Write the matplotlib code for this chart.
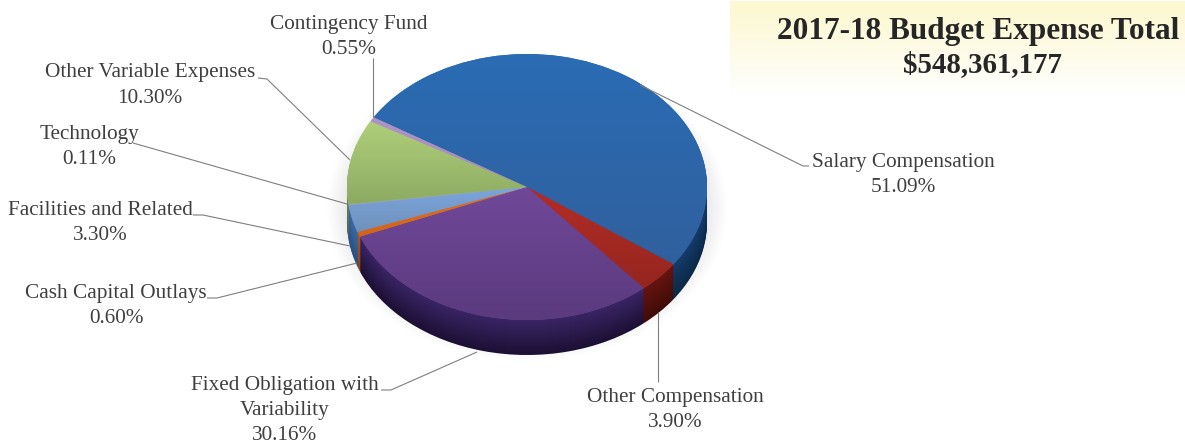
import numpy as np
import matplotlib
matplotlib.use('Agg')
import matplotlib.pyplot as plt
from matplotlib.patches import Ellipse
from matplotlib.colors import to_rgb

# Данные: по часовой стрелке, начиная с Salary
categories = ['Salary Compensation', 'Other Compensation', 'Fixed Obligation with\nVariability',
              'Cash Capital Outlays', 'Facilities and Related', 'Technology',
              'Other Variable Expenses', 'Contingency Fund']
shares = [51.09, 3.90, 30.16, 0.60, 3.30, 0.11, 10.30, 0.55]
title_lines = ['2017-18 Budget Expense Total', '$548,361,177']

# Цвета верхней грани (верх, низ) и боковой (верх, низ)
top_colors = [('#2a6cb4', '#30609e'), ('#b52c27', '#94261f'), ('#704899', '#5b3a7e'),
              ('#e0701f', '#d0641c'), ('#7ca6de', '#6f90ba'), ('#a8a8c0', '#a0a0b8'),
              ('#b0cf7a', '#8cab62'), ('#ad94c6', '#a58cbe')]
side_colors = [('#143c6c', '#0c2846'), ('#681410', '#400c08'), ('#3a2566', '#1c0f34'),
               ('#b0561a', '#8a4212'), ('#3c6ba8', '#2a4e80'), ('#888888', '#666666'),
               ('#6f8a48', '#50663a'), ('#7a6a90', '#5a4a70')]

# Подписи: центр текста и линия-выноска в пикселях
label_pos = [(903, 162), (675, 397), (285, 385), (116, 293), (100, 210), (89, 134), (150, 73), (349, 25)]
leaders = [[(640, 85), (803, 166), (809, 166)],
           [(658, 312), (658, 382)],
           [(477, 352), (391, 390), (381, 390)],
           [(357, 263), (217, 298), (207, 298)],
           [(350, 246), (203, 215), (193, 215)],
           [(347, 204), (133, 143)],
           [(350, 160), (267, 79), (258, 78)],
           [(373, 117), (373, 58)]]

W, H = 1185, 444
cx, cy, rx, ry, depth = 527, 187, 180, 133, 35
start_angle = 148.4


def blend(a, b, t):
    a, b = np.array(to_rgb(a)), np.array(to_rgb(b))
    return a + (b - a) * t


def set_unit_limits(ax):
    ax.set_aspect('auto')
    ax.set_xlim(-cx / rx, (W - cx) / rx)
    ax.set_ylim((cy - H) / ry, cy / ry)
    ax.axis('off')


fig = plt.figure(figsize=(W / 100, H / 100), dpi=100, facecolor='white')

# Фон заголовка
bg = fig.add_axes([0, 0, 1, 1])
grad = np.linspace(0, 1, 100)[:, None, None] ** 1.1
yellow = np.array(to_rgb('#fcf8d0'))
img = yellow + (1 - yellow) * grad
bg.imshow(img, extent=(730, W, 95, 1), aspect='auto', zorder=1)
bg.set_xlim(0, W)
bg.set_ylim(H, 0)
bg.axis('off')

ax = fig.add_axes([0, 0, 1, 1])
ax.patch.set_alpha(0)

# Мягкая тень вокруг диаграммы
for k in range(10):
    ax.add_patch(Ellipse((0, -depth / ry * 0.6), 2 + (10 - k) * 0.022, 2 + (10 - k) * 0.03,
                         fc='#6080a0', ec='none', alpha=0.012, zorder=0))

# Боковая стенка: слои снизу вверх
for i in range(depth, 0, -1):
    t = i / depth
    cols = [blend(c[0], c[1], t) for c in side_colors]
    ax.pie(shares, colors=cols, startangle=start_angle, counterclock=False, radius=1,
           center=(0, -i / ry), wedgeprops={'linewidth': 0}, normalize=True)

# Верхняя грань с вертикальным градиентом по каждому сектору
wedges, _ = ax.pie(shares, colors=[c[0] for c in top_colors], startangle=start_angle, counterclock=False,
                   radius=1, center=(0, 0), wedgeprops={'linewidth': 0}, normalize=True)
for w, c in zip(wedges, top_colors):
    w.set_zorder(3)
    box = w.get_path().get_extents(w.get_patch_transform())
    ramp = np.linspace(0, 1, 200)
    g = np.array([blend(c[0], c[1], v) for v in ramp])[:, None, :]
    im = ax.imshow(g, extent=(box.x0, box.x1, box.y0, box.y1), aspect='auto', origin='upper', zorder=4)
    im.set_clip_path(w)
set_unit_limits(ax)

# Тексты и выноски
ov = fig.add_axes([0, 0, 1, 1])
ov.patch.set_alpha(0)
ov.set_xlim(0, W)
ov.set_ylim(H, 0)
ov.axis('off')

serif = ['Liberation Serif', 'DejaVu Serif']
txt_color = '#3f3f3f'
for name, share, (x, y), pts in zip(categories, shares, label_pos, leaders):
    lines = name.split('\n') + [f'{share:.2f}%']
    for n, line in enumerate(lines):
        ov.text(x, y + n * 25, line, ha='center', va='center', fontsize=15.3,
                family=serif, color=txt_color)
    xs, ys = zip(*pts)
    ov.plot(xs, ys, color='#7f7f7f', lw=0.8, solid_capstyle='butt')

ov.text(978, 32, title_lines[0], ha='center', va='center', fontsize=22.5, fontweight='bold',
        family=serif, color='#262626')
ov.text(982, 65, title_lines[1], ha='center', va='center', fontsize=20.8, fontweight='bold',
        family=serif, color='#262626')

fig.savefig('out.png', dpi=100)
